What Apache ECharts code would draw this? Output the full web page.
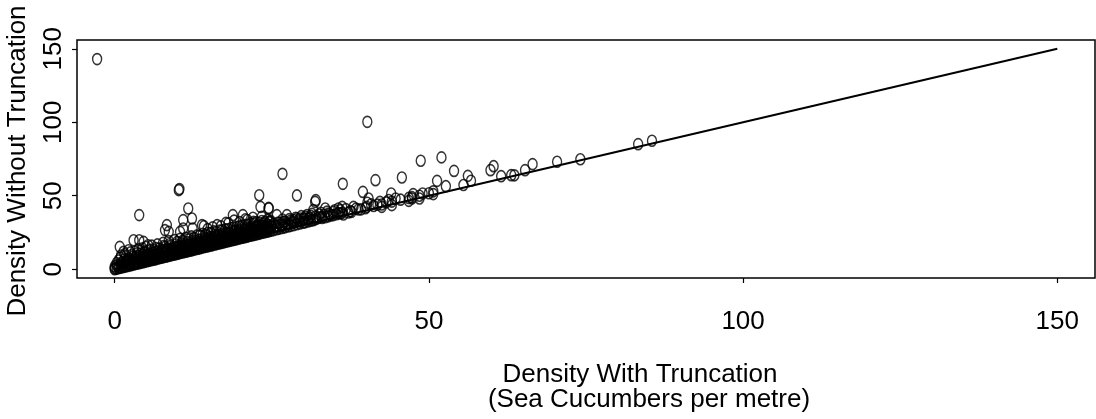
<!DOCTYPE html>
<html><head><meta charset="utf-8">
<script src="https://cdn.jsdelivr.net/npm/echarts@6/dist/echarts.min.js"></script>
<style>html,body{margin:0;padding:0;background:#fff}#c{width:1096px;height:419px}</style>
</head><body><div id="c"></div>
<script>
const xTicks = [0, 50, 100, 150];
const yTicks = [0, 50, 100, 150];
const xTitleLines = ['Density With Truncation', '(Sea Cucumbers per metre)'];
const yTitle = 'Density Without Truncation';
const refLine = [[0, 0], [150, 150]];

const denseBand = [
[0.0,0.0],[0.0,0.6],[0.0,1.8],[0.3,0.4],[0.3,2.6],[0.3,4.1],[0.6,0.7],[0.6,1.5],[0.6,5.9],
[0.9,1.0],[0.9,3.3],[0.9,7.6],[1.2,1.3],[1.2,2.2],[1.2,4.8],[1.5,1.6],[1.5,3.9],[1.5,6.4],
[1.8,1.9],[1.8,2.8],[1.8,5.2],[1.8,8.9],[2.1,2.2],[2.1,4.3],[2.1,7.1],[2.4,2.6],[2.4,3.5],[2.4,5.8],
[2.7,2.8],[2.7,4.9],[2.7,9.6],[3.0,3.2],[3.0,4.0],[3.0,6.7],[3.3,3.5],[3.3,5.4],[3.3,8.1],
[3.6,3.8],[3.6,4.6],[3.6,7.3],[3.6,10.8],[3.9,4.1],[3.9,6.0],[3.9,8.8],[4.2,4.4],[4.2,5.3],[4.2,7.7],
[4.5,4.7],[4.5,6.4],[4.5,9.9],[4.8,5.0],[4.8,5.9],[4.8,8.3],[4.8,12.1],[5.1,5.4],[5.1,7.0],[5.1,9.2],
[5.4,5.7],[5.4,6.6],[5.4,10.4],[5.7,6.0],[5.7,7.8],[5.7,8.9],[5.7,13.2],[6.0,6.3],[6.0,7.2],[6.0,11.0],
[6.3,6.6],[6.3,8.4],[6.3,9.7],[6.6,6.9],[6.6,7.7],[6.6,10.6],[6.6,14.3],[6.9,7.3],[6.9,9.0],[6.9,12.2],
[7.2,7.6],[7.2,8.3],[7.2,10.9],[7.5,7.9],[7.5,9.6],[7.5,13.4],[7.8,8.2],[7.8,8.9],[7.8,11.6],[7.8,15.8],
[8.1,8.5],[8.1,10.2],[8.1,12.8],[8.4,8.8],[8.4,9.5],[8.4,14.1],[8.7,9.2],[8.7,10.9],[8.7,12.3],[8.7,17.0],
[9.0,9.5],[9.0,10.3],[9.0,13.5],[9.3,9.8],[9.3,11.6],[9.3,15.2],[9.6,10.1],[9.6,10.8],[9.6,12.9],
[9.9,10.4],[9.9,12.3],[9.9,14.6],[9.9,18.4],[10.2,10.8],[10.2,11.5],[10.2,16.0],[10.5,11.1],[10.5,13.1],[10.5,14.2],
[10.8,11.4],[10.8,12.2],[10.8,15.7],[10.8,19.3],[11.1,11.7],[11.1,13.7],[11.1,17.1],[11.4,12.0],[11.4,12.9],[11.4,14.9],
[11.7,12.3],[11.7,14.4],[11.7,16.6],[11.7,20.2],[12.0,12.6],[12.0,13.4],[12.0,18.0],[12.3,12.9],[12.3,15.0],[12.3,16.2],
[12.6,13.3],[12.6,14.1],[12.6,17.5],[12.6,21.3],[12.9,13.6],[12.9,15.7],[12.9,19.1],[13.2,13.9],[13.2,14.8],[13.2,16.8],
[13.5,14.2],[13.5,16.4],[13.5,18.7],[13.5,22.6],[13.8,14.5],[13.8,15.4],[13.8,20.1],[14.1,14.9],[14.1,17.0],[14.1,18.3],
[14.4,15.2],[14.4,16.1],[14.4,19.6],[14.4,23.4],[14.7,15.5],[14.7,17.7],[14.7,21.0],[15.0,15.8],[15.0,16.8],[15.0,18.9],
[15.3,16.1],[15.3,18.4],[15.3,20.5],[15.3,24.5],[15.6,16.4],[15.6,17.4],[15.6,22.1],[15.9,16.8],[15.9,19.0],[15.9,20.0],
[16.2,17.1],[16.2,18.1],[16.2,21.6],[16.2,25.3],[16.5,17.4],[16.5,19.6],[16.5,23.0],[16.8,17.7],[16.8,18.7],[16.8,20.8],
[17.1,18.0],[17.1,20.3],[17.1,22.5],[17.1,26.4],[17.4,18.4],[17.4,19.4],[17.4,24.0],[17.7,18.7],[17.7,21.0],[17.7,22.1],
[18.0,19.0],[18.0,20.0],[18.0,23.6],[18.0,27.2],[18.3,19.3],[18.3,21.6],[18.3,25.1],[18.6,19.6],[18.6,20.7],[18.6,22.8],
[18.9,19.9],[18.9,22.3],[18.9,24.3],[18.9,28.4],[19.2,20.2],[19.2,21.3],[19.2,26.0],[19.5,20.6],[19.5,22.9],[19.5,24.0],
[19.8,20.9],[19.8,22.0],[19.8,25.6],[19.8,29.1],[20.1,21.2],[20.1,23.6],[20.1,27.0],[20.4,21.5],[20.4,22.6],[20.4,24.7],
[20.7,21.8],[20.7,24.2],[20.7,26.5],[20.7,30.0],[21.0,22.1],[21.0,23.3],[21.0,28.1],[21.3,22.5],[21.3,24.9],[21.3,25.9],
[21.6,22.8],[21.6,23.9],[21.6,27.5],[21.6,31.2],[21.9,23.1],[21.9,25.5],[21.9,29.0],[22.2,23.4],[22.2,24.6],[22.2,26.7],
[22.5,23.7],[22.5,26.2],[22.5,28.3],[22.5,31.9],[22.8,24.0],[22.8,25.2],[22.8,30.1],[23.1,24.4],[23.1,26.8],[23.1,27.8],
[23.4,24.7],[23.4,25.9],[23.4,29.4],[23.4,32.8],[23.7,25.0],[23.7,27.5],[23.7,31.0],[24.0,25.3],[24.0,26.5],[24.0,28.6],
[24.3,25.6],[24.3,28.1],[24.3,30.3],[24.3,33.6],[24.6,25.9],[24.6,27.2],[24.6,32.0],[24.9,26.3],[24.9,28.8],[24.9,29.7]
];

const bandUpper = [
[1.0,9.3],[1.6,10.2],[2.0,6.1],[2.5,11.4],[2.9,8.6],[3.2,12.0],[3.5,9.1],[3.8,13.5],[4.1,10.6],[4.4,14.2],
[4.7,11.0],[5.0,15.1],[5.3,12.4],[5.6,10.1],[5.9,16.0],[6.2,13.1],[6.5,11.8],[6.8,16.9],[7.1,14.0],[7.4,12.4],
[7.7,17.9],[8.0,15.1],[8.3,13.4],[8.6,19.2],[8.9,15.9],[9.2,14.1],[9.5,19.8],[9.8,16.8],[10.1,14.9],[10.4,20.6],
[10.7,17.6],[11.0,15.8],[11.3,21.4],[11.6,18.5],[11.9,16.6],[12.2,22.3],[12.5,19.3],[12.8,17.6],[13.1,23.0],[13.4,20.1],
[13.7,18.2],[14.0,24.1],[14.3,21.1],[14.6,19.2],[14.9,24.8],[15.2,21.9],[15.5,19.9],[15.8,25.7],[16.1,22.8],[16.4,20.9],
[16.7,26.3],[17.0,23.6],[17.3,21.5],[17.6,27.1],[17.9,24.5],[18.2,22.4],[18.5,27.9],[18.8,25.3],[19.1,23.2],[19.4,28.6],
[19.7,26.2],[20.0,24.1],[20.3,29.4],[20.6,27.0],[20.9,25.0],[21.2,30.1],[21.5,27.8],[21.8,25.9],[22.1,30.9],[22.4,28.6],
[22.7,26.8],[23.0,31.6],[23.3,29.5],[23.6,27.6],[23.9,32.3],[24.2,30.3],[24.5,28.5],[24.8,33.0]
];

const midScatter = [
[25.5,29.2],[25.9,31.5],[26.4,30.3],[26.9,32.0],[27.3,30.9],[27.8,34.1],[28.2,32.2],[28.8,35.0],[29.2,33.2],[29.7,36.1],
[30.1,34.4],[30.6,36.8],[31.0,35.1],[31.4,37.6],[32.0,36.0],[32.8,38.4],[33.3,36.9],[33.8,39.2],[34.2,37.5],[35.0,40.1],
[36.8,40.9],[37.2,38.6],[38.4,41.2],[39.2,40.7],[40.8,44.1],[41.8,43.9],[43.6,47.1],
[14.8,27.3],[15.6,28.5],[16.9,29.2],[18.1,31.2],[19.0,33.1],[19.9,32.0],[21.1,33.5],[22.0,35.0],[20.8,34.0]
];

const upperScatter = [
[25.3,26.6],[25.3,30.9],[25.8,27.2],[25.8,28.6],[25.8,36.8],[26.2,27.6],[26.2,31.7],[26.7,28.1],[26.7,29.5],[26.7,33.8],
[27.1,28.6],[27.1,32.4],[27.4,36.8],[27.6,29.1],[27.6,30.6],[28.0,29.5],[28.0,33.1],[28.5,30.0],[28.5,31.8],[28.5,33.4],
[29.0,30.6],[29.0,34.5],[29.5,31.1],[29.5,32.6],[29.5,34.5],[30.0,31.6],[30.0,33.9],[30.3,32.0],[30.3,35.6],[30.8,32.5],
[30.8,34.2],[31.2,33.0],[31.2,36.3],[31.6,33.3],[31.6,40.2],[31.9,34.0],[31.9,45.8],[32.2,34.5],[32.5,35.2],[32.5,37.3],
[33.0,34.9],[33.0,35.6],[33.5,35.4],[33.5,41.3],[34.0,36.0],[34.0,37.9],[34.4,36.6],[34.8,36.8],[34.8,39.0],[35.3,37.4],
[35.6,41.3],[35.6,38.2],[35.9,37.9],[35.9,40.2],[36.2,42.4],[36.2,38.4],[36.4,37.2],[37.5,39.5],[37.7,39.0],[38.0,42.4],
[38.8,40.6],[39.5,52.6],[39.9,41.5],[40.1,42.4],[40.2,45.2],[40.4,48.1],[41.2,43.0],[42.2,45.8],[42.5,44.0],[43.2,45.5],
[44.0,51.5],[44.1,46.0],[44.7,48.1],[45.5,47.3],[46.8,48.5],[47.3,49.0],[47.5,51.1],[48.5,50.0],[49.0,51.5],[50.0,51.7],
[50.7,53.0],[51.3,60.1],[52.7,56.5],[55.5,57.3],[56.2,63.5],[56.7,60.2],[59.8,67.4],[60.3,70.1],[61.5,63.3],[63.1,64.0],
[63.6,63.9],[65.3,67.4],[66.5,71.5],[70.4,73.1],[74.1,74.8],[83.3,85.1],[85.5,87.4]
];

const outliers = [
[-2.8,143.0],[40.2,100.3],[26.7,64.9],[48.7,73.8],[52.0,76.1],[36.3,58.1],[41.5,60.6],[45.7,62.4],[54.0,66.9],
[10.2,53.8],[10.3,54.6],[3.9,36.8],[23.0,50.3],[29.0,50.2],[11.7,41.3],[23.2,42.4],[24.5,41.3],[23.4,35.6],
[32.0,47.0],[18.8,36.8],[20.4,36.8],[16.3,30.0],[17.7,31.5],[13.9,30.0],[14.2,29.3],[10.9,33.4],[12.3,34.5],
[12.4,27.7],[10.9,27.7],[10.4,25.4],[8.3,30.0],[8.6,25.4],[8.0,26.6],[3.0,19.7],[3.9,19.7],[4.6,18.6],[5.3,16.3],
[0.8,15.2],[1.4,11.8],[2.2,12.9],[44.1,43.6],[42.5,42.4],[47.3,48.1],[46.8,46.5],[48.5,48.1],[50.7,51.1],
[24.7,32.2],[23.7,31.1],[22.6,28.8],[22.1,32.2],[21.6,26.6],[24.5,41.7]
];

const FONT = '"Liberation Sans", Arial, Helvetica, sans-serif';
const chart = echarts.init(document.getElementById('c'), null, {renderer: 'canvas'});
const pointStyle = {color: 'rgba(0,0,0,0)', borderColor: '#000', borderWidth: 1.5};
function scatterOf(name, data) {
  return {type: 'scatter', name: name, data: data, symbol: 'circle', symbolSize: [9, 11],
    itemStyle: pointStyle, silent: true, large: false};
}
chart.setOption({
  animation: false,
  backgroundColor: '#fff',
  grid: {left: 77, right: 1, top: 40, bottom: 141, show: true, borderColor: '#000', borderWidth: 1.5,
    backgroundColor: 'rgba(0,0,0,0)'},
  xAxis: {type: 'value', min: -6, max: 156,
    axisLine: {show: false, onZero: false}, splitLine: {show: false},
    axisTick: {show: true, customValues: xTicks, length: 5, lineStyle: {color: '#000', width: 1.2}},
    axisLabel: {customValues: xTicks, margin: 31, fontSize: 26, color: '#000', fontFamily: FONT}},
  yAxis: {type: 'value', min: -6, max: 156,
    axisLine: {show: false, onZero: false}, splitLine: {show: false},
    axisTick: {show: true, customValues: yTicks, length: 5, lineStyle: {color: '#000', width: 1.2}},
    axisLabel: {customValues: yTicks, margin: 10, rotate: 90, fontSize: 26, color: '#000', fontFamily: FONT}},
  graphic: [
    {type: 'text', x: 640, y: 375, style: {text: xTitleLines[0], font: '26px ' + FONT, fill: '#000', align: 'center', verticalAlign: 'middle'}},
    {type: 'text', x: 649, y: 400, style: {text: xTitleLines[1], font: '26px ' + FONT, fill: '#000', align: 'center', verticalAlign: 'middle'}},
    {type: 'text', x: 18, y: 161, rotation: Math.PI / 2, style: {text: yTitle, font: '26px ' + FONT, fill: '#000', align: 'center', verticalAlign: 'middle'}}
  ],
  series: [
    scatterOf('band', denseBand),
    scatterOf('bandUpper', bandUpper),
    scatterOf('mid', midScatter),
    scatterOf('upper', upperScatter),
    scatterOf('outliers', outliers),
    {type: 'line', data: refLine, symbol: 'none', silent: true, lineStyle: {color: '#000', width: 2}, z: 3}
  ]
});
</script></body></html>
